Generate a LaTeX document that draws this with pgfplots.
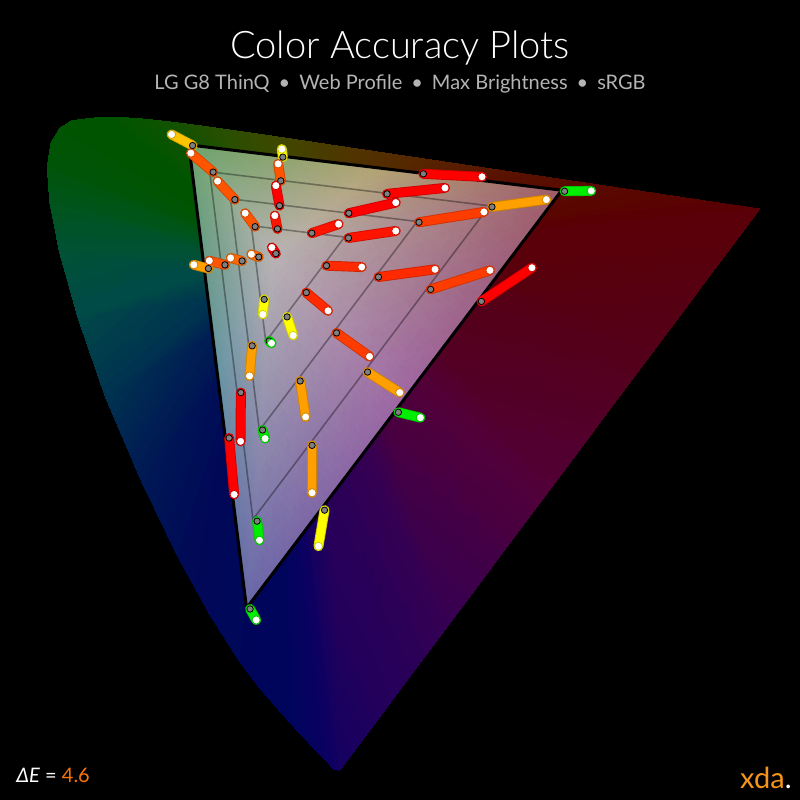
\documentclass[border=0pt]{standalone}
\usepackage{pgfplots}
\pgfplotsset{compat=1.18}
\usepackage{fontspec}
\setmainfont{Lato}
\newfontfamily\lightfont{Lato Light}

\definecolor{cRed}{HTML}{FF0000}
\definecolor{cR1}{HTML}{FF1400}
\definecolor{cR2}{HTML}{FF2A00}
\definecolor{cR3}{HTML}{FF3C00}
\definecolor{cOR}{HTML}{FF5500}
\definecolor{cO}{HTML}{FF6A00}
\definecolor{cAmb}{HTML}{FFA000}
\definecolor{cGold}{HTML}{FFC400}
\definecolor{cYel}{HTML}{FFFF00}
\definecolor{cGrn}{HTML}{00EE00}
\definecolor{subgray}{HTML}{B4B4B4}
\definecolor{dEorange}{HTML}{FA7306}
\definecolor{xdaorange}{HTML}{F5941A}

% target (gray) -> measured (white), in u'v'
\newcommand{\seg}[5]{%
  \addplot[line width=5pt, line cap=round, #1!82!black] coordinates {(#2,#3) (#4,#5)};
  \addplot[line width=4.1pt, line cap=round, #1] coordinates {(#2,#3) (#4,#5)};
  \addplot[only marks, mark=*, mark size=1.6pt, mark options={fill=gray, draw=none}] coordinates {(#2,#3)};
  \addplot[only marks, mark=*, mark size=2.05pt, mark options={fill=white, draw=#1!82!black, line width=0.4pt}] coordinates {(#4,#5)};
}

\begin{document}
\begin{tikzpicture}
\fill[black] (0,0) rectangle (400pt,400pt);
\begin{axis}[
    at={(0,0)}, anchor=south west,
    width=400pt, height=400pt, scale only axis,
    xmin=-0.0399, xmax=0.6587,
    ymin=-0.0096, ymax=0.6890,
    hide axis, clip=false]

% spectral locus (CIE 1976 u'v'): ring between the locus and an inner loop hidden by the gamut
\addplot[patch, shader=interp, mesh/color input=explicit] table[meta=c] {
x      y      c
0.2155 0.3328 rgb=0.08,0.00,0.38
0.2568 0.0165 rgb=0.08,0.00,0.38
0.2522 0.0169 rgb=0.05,0.00,0.38
0.2155 0.3328 rgb=0.08,0.00,0.38
0.2522 0.0169 rgb=0.05,0.00,0.38
0.2141 0.3329 rgb=0.05,0.00,0.38
0.2141 0.3329 rgb=0.05,0.00,0.38
0.2522 0.0169 rgb=0.05,0.00,0.38
0.2347 0.0350 rgb=0.02,0.01,0.37
0.2141 0.3329 rgb=0.05,0.00,0.38
0.2347 0.0350 rgb=0.02,0.01,0.37
0.2089 0.3383 rgb=0.02,0.01,0.37
0.2089 0.3383 rgb=0.02,0.01,0.37
0.2347 0.0350 rgb=0.02,0.01,0.37
0.2161 0.0550 rgb=0.00,0.02,0.36
0.2089 0.3383 rgb=0.02,0.01,0.37
0.2161 0.0550 rgb=0.00,0.02,0.36
0.2033 0.3443 rgb=0.00,0.02,0.36
0.2033 0.3443 rgb=0.00,0.02,0.36
0.2161 0.0550 rgb=0.00,0.02,0.36
0.1877 0.0871 rgb=0.00,0.02,0.35
0.2033 0.3443 rgb=0.00,0.02,0.36
0.1877 0.0871 rgb=0.00,0.02,0.35
0.1948 0.3539 rgb=0.00,0.02,0.35
0.1948 0.3539 rgb=0.00,0.02,0.35
0.1877 0.0871 rgb=0.00,0.02,0.35
0.1690 0.1119 rgb=0.00,0.03,0.35
0.1948 0.3539 rgb=0.00,0.02,0.35
0.1690 0.1119 rgb=0.00,0.03,0.35
0.1892 0.3614 rgb=0.00,0.03,0.35
0.1892 0.3614 rgb=0.00,0.03,0.35
0.1690 0.1119 rgb=0.00,0.03,0.35
0.1441 0.1510 rgb=0.00,0.03,0.34
0.1892 0.3614 rgb=0.00,0.03,0.35
0.1441 0.1510 rgb=0.00,0.03,0.34
0.1817 0.3731 rgb=0.00,0.03,0.34
0.1817 0.3731 rgb=0.00,0.03,0.34
0.1441 0.1510 rgb=0.00,0.03,0.34
0.1147 0.2044 rgb=0.00,0.05,0.34
0.1817 0.3731 rgb=0.00,0.03,0.34
0.1147 0.2044 rgb=0.00,0.05,0.34
0.1729 0.3891 rgb=0.00,0.05,0.34
0.1729 0.3891 rgb=0.00,0.05,0.34
0.1147 0.2044 rgb=0.00,0.05,0.34
0.0828 0.2708 rgb=0.00,0.10,0.33
0.1729 0.3891 rgb=0.00,0.05,0.34
0.0828 0.2708 rgb=0.00,0.10,0.33
0.1633 0.4091 rgb=0.00,0.10,0.33
0.1633 0.4091 rgb=0.00,0.10,0.33
0.0828 0.2708 rgb=0.00,0.10,0.33
0.0521 0.3427 rgb=0.00,0.20,0.31
0.1633 0.4091 rgb=0.00,0.10,0.33
0.0521 0.3427 rgb=0.00,0.20,0.31
0.1541 0.4306 rgb=0.00,0.20,0.31
0.1541 0.4306 rgb=0.00,0.20,0.31
0.0521 0.3427 rgb=0.00,0.20,0.31
0.0282 0.4117 rgb=0.00,0.29,0.28
0.1541 0.4306 rgb=0.00,0.20,0.31
0.0282 0.4117 rgb=0.00,0.29,0.28
0.1469 0.4513 rgb=0.00,0.29,0.28
0.1469 0.4513 rgb=0.00,0.29,0.28
0.0282 0.4117 rgb=0.00,0.29,0.28
0.0119 0.4698 rgb=0.00,0.32,0.20
0.1469 0.4513 rgb=0.00,0.29,0.28
0.0119 0.4698 rgb=0.00,0.32,0.20
0.1420 0.4688 rgb=0.00,0.32,0.20
0.1420 0.4688 rgb=0.00,0.32,0.20
0.0119 0.4698 rgb=0.00,0.32,0.20
0.0035 0.5131 rgb=0.00,0.33,0.10
0.1420 0.4688 rgb=0.00,0.32,0.20
0.0035 0.5131 rgb=0.00,0.33,0.10
0.1395 0.4817 rgb=0.00,0.33,0.10
0.1395 0.4817 rgb=0.00,0.33,0.10
0.0035 0.5131 rgb=0.00,0.33,0.10
0.0014 0.5432 rgb=0.00,0.33,0.04
0.1395 0.4817 rgb=0.00,0.33,0.10
0.0014 0.5432 rgb=0.00,0.33,0.04
0.1389 0.4908 rgb=0.00,0.33,0.04
0.1389 0.4908 rgb=0.00,0.33,0.04
0.0014 0.5432 rgb=0.00,0.33,0.04
0.0046 0.5638 rgb=0.00,0.33,0.01
0.1389 0.4908 rgb=0.00,0.33,0.04
0.0046 0.5638 rgb=0.00,0.33,0.01
0.1398 0.4970 rgb=0.00,0.33,0.01
0.1398 0.4970 rgb=0.00,0.33,0.01
0.0046 0.5638 rgb=0.00,0.33,0.01
0.0123 0.5770 rgb=0.00,0.33,0.00
0.1398 0.4970 rgb=0.00,0.33,0.01
0.0123 0.5770 rgb=0.00,0.33,0.00
0.1422 0.5009 rgb=0.00,0.33,0.00
0.1422 0.5009 rgb=0.00,0.33,0.00
0.0123 0.5770 rgb=0.00,0.33,0.00
0.0231 0.5837 rgb=0.00,0.33,0.00
0.1422 0.5009 rgb=0.00,0.33,0.00
0.0231 0.5837 rgb=0.00,0.33,0.00
0.1454 0.5029 rgb=0.00,0.33,0.00
0.1454 0.5029 rgb=0.00,0.33,0.00
0.0231 0.5837 rgb=0.00,0.33,0.00
0.0501 0.5868 rgb=0.00,0.33,0.00
0.1454 0.5029 rgb=0.00,0.33,0.00
0.0501 0.5868 rgb=0.00,0.33,0.00
0.1535 0.5039 rgb=0.00,0.33,0.00
0.1535 0.5039 rgb=0.00,0.33,0.00
0.0501 0.5868 rgb=0.00,0.33,0.00
0.0792 0.5857 rgb=0.03,0.33,0.00
0.1535 0.5039 rgb=0.00,0.33,0.00
0.0792 0.5857 rgb=0.03,0.33,0.00
0.1622 0.5035 rgb=0.03,0.33,0.00
0.1622 0.5035 rgb=0.03,0.33,0.00
0.0792 0.5857 rgb=0.03,0.33,0.00
0.1127 0.5821 rgb=0.08,0.32,0.00
0.1622 0.5035 rgb=0.03,0.33,0.00
0.1127 0.5821 rgb=0.08,0.32,0.00
0.1723 0.5024 rgb=0.08,0.32,0.00
0.1723 0.5024 rgb=0.08,0.32,0.00
0.1127 0.5821 rgb=0.08,0.32,0.00
0.1531 0.5766 rgb=0.16,0.31,0.00
0.1723 0.5024 rgb=0.08,0.32,0.00
0.1531 0.5766 rgb=0.16,0.31,0.00
0.1844 0.5008 rgb=0.16,0.31,0.00
0.1844 0.5008 rgb=0.16,0.31,0.00
0.1531 0.5766 rgb=0.16,0.31,0.00
0.2026 0.5694 rgb=0.25,0.28,0.00
0.1844 0.5008 rgb=0.16,0.31,0.00
0.2026 0.5694 rgb=0.25,0.28,0.00
0.1992 0.4986 rgb=0.25,0.28,0.00
0.1992 0.4986 rgb=0.25,0.28,0.00
0.2026 0.5694 rgb=0.25,0.28,0.00
0.2623 0.5604 rgb=0.31,0.21,0.00
0.1992 0.4986 rgb=0.25,0.28,0.00
0.2623 0.5604 rgb=0.31,0.21,0.00
0.2172 0.4959 rgb=0.31,0.21,0.00
0.2172 0.4959 rgb=0.31,0.21,0.00
0.2623 0.5604 rgb=0.31,0.21,0.00
0.3315 0.5501 rgb=0.34,0.14,0.00
0.2172 0.4959 rgb=0.31,0.21,0.00
0.3315 0.5501 rgb=0.34,0.14,0.00
0.2379 0.4928 rgb=0.34,0.14,0.00
0.2379 0.4928 rgb=0.34,0.14,0.00
0.3315 0.5501 rgb=0.34,0.14,0.00
0.4035 0.5393 rgb=0.35,0.07,0.00
0.2379 0.4928 rgb=0.34,0.14,0.00
0.4035 0.5393 rgb=0.35,0.07,0.00
0.2595 0.4896 rgb=0.35,0.07,0.00
0.2595 0.4896 rgb=0.35,0.07,0.00
0.4035 0.5393 rgb=0.35,0.07,0.00
0.5203 0.5219 rgb=0.35,0.02,0.00
0.2595 0.4896 rgb=0.35,0.07,0.00
0.5203 0.5219 rgb=0.35,0.02,0.00
0.2946 0.4844 rgb=0.35,0.02,0.00
0.2946 0.4844 rgb=0.35,0.02,0.00
0.5203 0.5219 rgb=0.35,0.02,0.00
0.5830 0.5125 rgb=0.35,0.00,0.02
0.2946 0.4844 rgb=0.35,0.02,0.00
0.5830 0.5125 rgb=0.35,0.00,0.02
0.3134 0.4816 rgb=0.35,0.00,0.02
0.3134 0.4816 rgb=0.35,0.00,0.02
0.5830 0.5125 rgb=0.35,0.00,0.02
0.6234 0.5065 rgb=0.35,0.00,0.03
0.3134 0.4816 rgb=0.35,0.00,0.02
0.6234 0.5065 rgb=0.35,0.00,0.03
0.3255 0.4798 rgb=0.35,0.00,0.03
0.3255 0.4798 rgb=0.35,0.00,0.03
0.6234 0.5065 rgb=0.35,0.00,0.03
0.5318 0.3840 rgb=0.33,0.00,0.10
0.3255 0.4798 rgb=0.35,0.00,0.03
0.5318 0.3840 rgb=0.33,0.00,0.10
0.2980 0.4430 rgb=0.33,0.00,0.10
0.2980 0.4430 rgb=0.33,0.00,0.10
0.5318 0.3840 rgb=0.33,0.00,0.10
0.4401 0.2615 rgb=0.32,0.00,0.22
0.2980 0.4430 rgb=0.33,0.00,0.10
0.4401 0.2615 rgb=0.32,0.00,0.22
0.2705 0.4063 rgb=0.32,0.00,0.22
0.2705 0.4063 rgb=0.32,0.00,0.22
0.4401 0.2615 rgb=0.32,0.00,0.22
0.3485 0.1390 rgb=0.20,0.00,0.33
0.2705 0.4063 rgb=0.32,0.00,0.22
0.3485 0.1390 rgb=0.20,0.00,0.33
0.2430 0.3695 rgb=0.20,0.00,0.33
0.2430 0.3695 rgb=0.20,0.00,0.33
0.3485 0.1390 rgb=0.20,0.00,0.33
0.2568 0.0165 rgb=0.08,0.00,0.38
0.2430 0.3695 rgb=0.20,0.00,0.33
0.2568 0.0165 rgb=0.08,0.00,0.38
0.2155 0.3328 rgb=0.08,0.00,0.38
};

% sRGB gamut
\addplot[patch, shader=interp, mesh/color input=explicit] table[meta=c] {
x      y      c
0.1978 0.4683 rgb=0.72,0.70,0.70
0.1250 0.5625 rgb=0.42,0.64,0.42
0.2879 0.5427 rgb=0.70,0.64,0.45
0.1978 0.4683 rgb=0.72,0.70,0.70
0.2879 0.5427 rgb=0.70,0.64,0.45
0.4507 0.5229 rgb=0.62,0.36,0.40
0.1978 0.4683 rgb=0.72,0.70,0.70
0.4507 0.5229 rgb=0.62,0.36,0.40
0.3131 0.3404 rgb=0.62,0.40,0.64
0.1978 0.4683 rgb=0.72,0.70,0.70
0.3131 0.3404 rgb=0.62,0.40,0.64
0.1754 0.1579 rgb=0.40,0.40,0.66
0.1978 0.4683 rgb=0.72,0.70,0.70
0.1754 0.1579 rgb=0.40,0.40,0.66
0.1502 0.3602 rgb=0.40,0.58,0.64
0.1978 0.4683 rgb=0.72,0.70,0.70
0.1502 0.3602 rgb=0.40,0.58,0.64
0.1250 0.5625 rgb=0.42,0.64,0.42
};

% saturation grid 75/50/25 %
\addplot[black, opacity=0.35, line width=0.8pt] coordinates {(0.1432,0.5390) (0.3875,0.5093) (0.1810,0.2355) (0.1432,0.5390)};
\addplot[black, opacity=0.35, line width=0.8pt] coordinates {(0.1614,0.5154) (0.3243,0.4956) (0.1866,0.3131) (0.1614,0.5154)};
\addplot[black, opacity=0.35, line width=0.8pt] coordinates {(0.1796,0.4919) (0.2610,0.4820) (0.1922,0.3907) (0.1796,0.4919)};

\addplot[black, line width=1.5pt, line join=round] coordinates {(0.1250,0.5625) (0.4507,0.5229) (0.1754,0.1579) (0.1250,0.5625)};

\seg{cGold}{0.1283}{0.5619}{0.1099}{0.5716}
\seg{cOR}{0.1462}{0.5387}{0.1268}{0.5553}
\seg{cOR}{0.1652}{0.5147}{0.1501}{0.5308}
\seg{cYel}{0.2071}{0.5518}{0.2062}{0.5588}
\seg{cOR}{0.2053}{0.5311}{0.2030}{0.5459}
\seg{cRed}{0.2042}{0.5094}{0.2010}{0.5269}
\seg{cR1}{0.2024}{0.4891}{0.2001}{0.5007}
\seg{cOR}{0.1829}{0.4911}{0.1742}{0.5028}
\seg{cRed}{0.2010}{0.4676}{0.1975}{0.4729}
\seg{cO}{0.1861}{0.4646}{0.1796}{0.4670}
\seg{cO}{0.1715}{0.4611}{0.1615}{0.4637}
\seg{cOR}{0.1565}{0.4577}{0.1429}{0.4613}
\seg{cAmb}{0.1421}{0.4545}{0.1294}{0.4578}
\seg{cR1}{0.2324}{0.4854}{0.2558}{0.4933}
\seg{cR2}{0.2452}{0.4570}{0.2760}{0.4558}
\seg{cR2}{0.2276}{0.4335}{0.2466}{0.4176}
\seg{cYel}{0.1908}{0.4276}{0.1896}{0.4144}
\seg{cYel}{0.2108}{0.4123}{0.2161}{0.3961}
\seg{cGrn}{0.1951}{0.3913}{0.1972}{0.3893}
\seg{cR3}{0.2540}{0.3983}{0.2828}{0.3777}
\seg{cAmb}{0.2811}{0.3641}{0.3092}{0.3462}
\seg{cAmb}{0.1803}{0.3870}{0.1780}{0.3607}
\seg{cAmb}{0.2222}{0.3563}{0.2270}{0.3249}
\seg{cRed}{0.1704}{0.3462}{0.1702}{0.3036}
\seg{cGrn}{0.1894}{0.3135}{0.1916}{0.3060}
\seg{cRed}{0.1602}{0.3065}{0.1646}{0.2572}
\seg{cAmb}{0.2326}{0.3001}{0.2326}{0.2587}
\seg{cGrn}{0.1846}{0.2339}{0.1867}{0.2172}
\seg{cYel}{0.2435}{0.2435}{0.2382}{0.2120}
\seg{cGrn}{0.1785}{0.1572}{0.1838}{0.1476}
\seg{cRed}{0.3298}{0.5372}{0.3810}{0.5346}
\seg{cRed}{0.2981}{0.5197}{0.3487}{0.5249}
\seg{cRed}{0.2647}{0.5028}{0.3057}{0.5121}
\seg{cR1}{0.2644}{0.4812}{0.3057}{0.4873}
\seg{cR3}{0.3260}{0.4949}{0.3827}{0.5039}
\seg{cAmb}{0.3897}{0.5083}{0.4372}{0.5147}
\seg{cGrn}{0.4531}{0.5220}{0.4764}{0.5223}
\seg{cR2}{0.2906}{0.4471}{0.3400}{0.4538}
\seg{cR3}{0.3362}{0.4363}{0.3880}{0.4529}
\seg{cRed}{0.3805}{0.4258}{0.4246}{0.4552}
\seg{cGrn}{0.3080}{0.3290}{0.3272}{0.3243}
\end{axis}

\node[white, font=\lightfont\fontsize{19}{22}\selectfont] at (200pt,376pt) {Color Accuracy Plots};
\node[subgray, font=\fontsize{10}{12}\selectfont] at (200pt,358pt)
  {LG G8 ThinQ\hspace{0.45em}•\hspace{0.45em}Web Profile\hspace{0.45em}•\hspace{0.45em}Max Brightness\hspace{0.45em}•\hspace{0.45em}sRGB};
\node[anchor=west, white, font=\fontsize{10}{12}\selectfont, inner sep=0pt] at (8pt,12.5pt)
  {\textit{ΔE} = \textcolor{dEorange}{4.6}};
\node[anchor=east, font=\fontsize{14.5}{16}\selectfont, inner sep=0pt] at (396pt,11pt)
  {\textcolor{xdaorange}{xda}\textcolor{white}{.}};
\end{tikzpicture}
\end{document}
